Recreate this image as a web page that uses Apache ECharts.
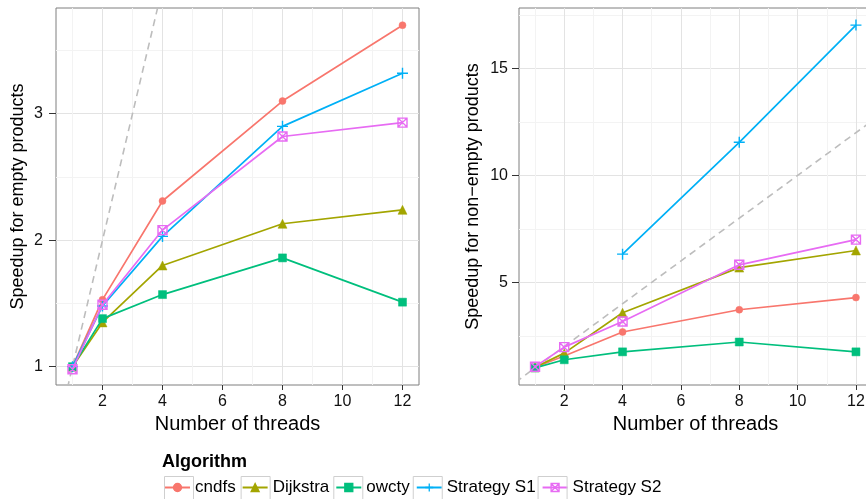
<!DOCTYPE html>
<html>
<head>
<meta charset="utf-8">
<script src="https://cdn.jsdelivr.net/npm/echarts@6/dist/echarts.min.js"></script>
<style>
html,body{margin:0;padding:0;background:#fff;overflow:hidden;}
#chart{width:872px;height:499px;}
</style>
</head>
<body>
<div id="chart"></div>
<script>
// ---- data ----
const algorithms = ['cndfs', 'Dijkstra', 'owcty', 'Strategy S1', 'Strategy S2'];
const threads = [1, 2, 4, 8, 12];
const threadsS1NonEmpty = [4, 8, 12];

const emptyCndfs    = [1.00, 1.53, 2.31, 3.10, 3.70];
const emptyDijkstra = [1.00, 1.35, 1.80, 2.13, 2.24];
const emptyOwcty    = [1.00, 1.38, 1.57, 1.86, 1.51];
const emptyS1       = [1.00, 1.48, 2.03, 2.90, 3.32];
const emptyS2       = [0.98, 1.49, 2.08, 2.82, 2.93];

const nonEmptyCndfs    = [1.03, 1.56, 2.68, 3.72, 4.29];
const nonEmptyDijkstra = [1.03, 1.69, 3.58, 5.69, 6.49];
const nonEmptyOwcty    = [1.00, 1.38, 1.75, 2.21, 1.75];
const nonEmptyS1       = [6.32, 11.55, 17.03];
const nonEmptyS2       = [1.05, 1.97, 3.17, 5.82, 7.00];

const xTicks = [2, 4, 6, 8, 10, 12];
const xMinorTicks = [1, 3, 5, 7, 9, 11];
const yTicksEmpty = [1, 2, 3];
const yMinorEmpty = [1.5, 2.5, 3.5];
const yTicksNonEmpty = [5, 10, 15];
const yMinorNonEmpty = [2.5, 7.5, 12.5, 17.5];
const idealLine = [[0, 0], [20, 20]];

// ---- styles ----
const colors = ['#F8766D', '#A3A500', '#00BF7D', '#00B0F6', '#E76BF3'];
const PLUS = 'path://M5,0L5,10M0,5L10,5';
const BOXX = 'path://M0,0L10,0L10,10L0,10Z M0,0L10,10 M10,0L0,10';
const symbols = ['circle', 'triangle', 'rect', PLUS, BOXX];
const symbolSizes = [7, 9, 8, 11, 9];
const filled = [true, true, true, false, false];
const FONT = '"Liberation Sans", Arial, Helvetica, sans-serif';

function zip(xs, ys) { return xs.map((x, i) => [x, ys[i]]); }

function mkSeries(i, data, gi) {
  return {
    name: algorithms[i], type: 'line', xAxisIndex: gi * 2, yAxisIndex: gi * 2,
    data: data, symbol: symbols[i], symbolSize: symbolSizes[i],
    showAllSymbol: true, z: 3 + i,
    lineStyle: { color: colors[i], width: 1.7 },
    itemStyle: { color: filled[i] ? colors[i] : 'rgba(0,0,0,0)', borderColor: colors[i], borderWidth: filled[i] ? 0.5 : 1.4 },
    emphasis: { disabled: true }
  };
}
function ideal(gi) {
  return {
    name: 'ideal', type: 'line', xAxisIndex: gi * 2, yAxisIndex: gi * 2,
    data: idealLine, showSymbol: false, silent: true, z: 2,
    lineStyle: { color: '#BDBDBD', width: 1.6, type: [7, 5] },
    emphasis: { disabled: true }
  };
}

const majorColor = '#E3E3E3', minorColor = '#F3F3F3';
function xMajor(gi, name) {
  return {
    type: 'value', gridIndex: gi, min: 0.45, max: 12.55, position: 'bottom',
    axisLine: { show: false },
    axisTick: { show: true, length: 5, customValues: xTicks, lineStyle: { color: '#333', width: 1 } },
    axisLabel: { customValues: xTicks, margin: 9, fontSize: 16, color: '#111', fontFamily: FONT },
    splitLine: { show: true, lineStyle: { color: majorColor, width: 1 } },
    name: name, nameLocation: 'middle', nameGap: 23,
    nameTextStyle: { fontSize: 20, color: '#000', fontFamily: FONT }
  };
}
function xMinor(gi) {
  return {
    type: 'value', gridIndex: gi, min: 0.45, max: 12.55, position: 'top',
    axisLine: { show: false },
    axisTick: { show: false, customValues: xMinorTicks },
    axisLabel: { show: false, customValues: xMinorTicks },
    splitLine: { show: true, lineStyle: { color: minorColor, width: 1 } }
  };
}
function yMajor(gi, min, max, ticks, name, gap, margin) {
  return {
    type: 'value', gridIndex: gi, min: min, max: max, position: 'left',
    axisLine: { show: false },
    axisTick: { show: true, length: 7, customValues: ticks, lineStyle: { color: '#333', width: 1 } },
    axisLabel: { customValues: ticks, margin: margin, fontSize: 16, color: '#111', fontFamily: FONT },
    splitLine: { show: true, lineStyle: { color: majorColor, width: 1 } },
    name: name, nameLocation: 'middle', nameRotate: 90, nameGap: gap,
    nameTextStyle: { fontSize: 18, color: '#000', fontFamily: FONT }
  };
}
function yMinor(gi, min, max, ticks) {
  return {
    type: 'value', gridIndex: gi, min: min, max: max, position: 'right',
    axisLine: { show: false },
    axisTick: { show: false, customValues: ticks },
    axisLabel: { show: false, customValues: ticks },
    splitLine: { show: true, lineStyle: { color: minorColor, width: 1 } }
  };
}

const series = [
  ideal(0),
  mkSeries(0, zip(threads, emptyCndfs), 0),
  mkSeries(1, zip(threads, emptyDijkstra), 0),
  mkSeries(2, zip(threads, emptyOwcty), 0),
  mkSeries(3, zip(threads, emptyS1), 0),
  mkSeries(4, zip(threads, emptyS2), 0),
  ideal(1),
  mkSeries(0, zip(threads, nonEmptyCndfs), 1),
  mkSeries(1, zip(threads, nonEmptyDijkstra), 1),
  mkSeries(2, zip(threads, nonEmptyOwcty), 1),
  mkSeries(3, zip(threadsS1NonEmpty, nonEmptyS1), 1),
  mkSeries(4, zip(threads, nonEmptyS2), 1)
];

// legend key boxes (computed from text widths)
const legendLeft = 164, legendIconW = 25, legendGap = 6, legendFont = 17;
const ctx = document.createElement('canvas').getContext('2d');
ctx.font = legendFont + 'px ' + FONT;
const boxes = [];
let lx = legendLeft;
algorithms.forEach(a => {
  boxes.push({ type: 'rect', left: lx - 2, top: 474, silent: true, z: 100,
    shape: { width: legendIconW + 4, height: 30 },
    style: { fill: 'none', stroke: '#CFCFCF', lineWidth: 1 } });
  lx += legendIconW + 5 + ctx.measureText(a).width + legendGap;
});

const option = {
  animation: false,
  backgroundColor: '#fff',
  title: { text: 'Algorithm', left: 162, top: 453, padding: 0,
    textStyle: { fontSize: 18, fontWeight: 'bold', color: '#000', fontFamily: FONT } },
  legend: {
    data: algorithms, left: legendLeft, top: 479, padding: 0, orient: 'horizontal',
    itemWidth: legendIconW, itemHeight: 10, itemGap: legendGap,
    textStyle: { fontSize: legendFont, color: '#000', fontFamily: FONT },
    itemStyle: { borderWidth: 1.3 },
    selectedMode: false
  },
  graphic: boxes,
  grid: [
    { left: 56, width: 363, top: 8, height: 377, show: true, borderColor: '#7F7F7F', borderWidth: 1, backgroundColor: '#fff' },
    { left: 519, width: 353, top: 8, height: 377, show: true, borderColor: '#7F7F7F', borderWidth: 1, backgroundColor: '#fff' }
  ],
  xAxis: [ xMajor(0, 'Number of threads'), xMinor(0), xMajor(1, 'Number of threads'), xMinor(1) ],
  yAxis: [
    yMajor(0, 0.855, 3.836, yTicksEmpty, 'Speedup for empty products', 29, 13),
    yMinor(0, 0.855, 3.836, yMinorEmpty),
    yMajor(1, 0.2, 17.83, yTicksNonEmpty, 'Speedup for non\u2212empty products', 37, 11),
    yMinor(1, 0.2, 17.83, yMinorNonEmpty)
  ],
  series: series
};

const chart = echarts.init(document.getElementById('chart'), null, { renderer: 'canvas' });
chart.setOption(option);
</script>
</body>
</html>
